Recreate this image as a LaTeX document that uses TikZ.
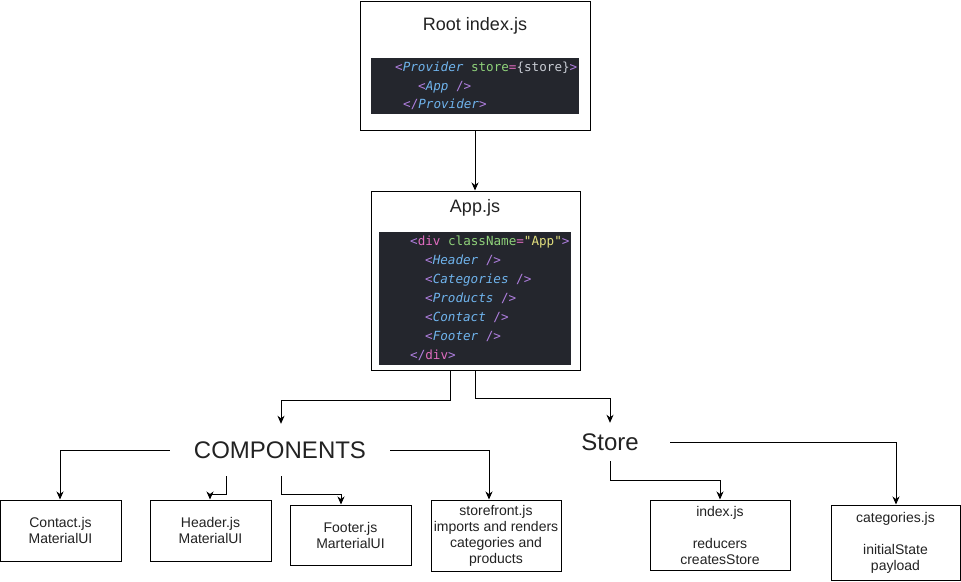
\documentclass[tikz,border=0pt]{standalone}
\usepackage{fontspec}
\setmainfont{Liberation Sans}
\newfontfamily\codefont{DejaVu Sans Mono}
\usetikzlibrary{arrows.meta,calc}
\definecolor{codebg}{HTML}{24262D}
\definecolor{tagp}{HTML}{B07FE0}
\definecolor{tagk}{HTML}{E06CC0}
\definecolor{attrg}{HTML}{8FD17A}
\definecolor{strq}{HTML}{E3E07E}
\definecolor{compb}{HTML}{6FB3EC}
\definecolor{plain}{HTML}{C8CCD4}
\definecolor{txt}{HTML}{222222}
\newcommand{\tp}[1]{\textcolor{tagp}{#1}}
\newcommand{\tk}[1]{\textcolor{tagk}{#1}}
\newcommand{\cb}[1]{\textcolor{compb}{\itshape #1}}
\begin{document}
\begin{tikzpicture}[x=1pt,y=-1pt,
  box/.style={draw=black,line width=1pt,fill=white,inner sep=0pt,align=center,text=txt,
    font=\fontsize{14}{16}\selectfont},
  title/.style={text=txt,font=\fontsize{18}{21}\selectfont,inner sep=0pt},
  big/.style={text=txt,font=\fontsize{24}{28}\selectfont,inner sep=0pt},
  codebox/.style={fill=codebg,draw=none,inner sep=0pt},
  code/.style={anchor=base west,inner sep=0pt,font=\codefont\fontsize{12.6}{15}\selectfont},
  conn/.style={draw=black,line width=1pt},
  arr/.style={conn,-{Stealth[length=8pt,width=7pt,inset=2.5pt]}}]
\useasboundingbox (0,0) rectangle (961,581);
% Root index.js
\node[box,minimum width=230pt,minimum height=129pt] (root) at (475,65.5) {};
\node[title] (roott) at (475,26) {Root index.js};
\node[codebox,minimum width=208pt,minimum height=56pt] (rootcode) at (475,86) {};
\node[code] (r1) at (395,71.5) {\tp{<}\cb{Provider} \textcolor{attrg}{store}\tk{=}\textcolor{plain}{\{store\}}\tp{>}};
\node[code] (r2) at (418,90.5) {\tp{<}\cb{App} \tp{/>}};
\node[code] (r3) at (403,108.5) {\tp{</}\cb{Provider}\tp{>}};
% App.js
\node[box,minimum width=209pt,minimum height=179pt] (app) at (475.5,280.5) {};
\node[title] (appt) at (475,208) {App.js};
\node[codebox,minimum width=192pt,minimum height=133pt] (appcode) at (475,298.5) {};
\node[code] (a1) at (410,245.7) {\tp{<}\tk{div} \textcolor{attrg}{className}\tk{=}\textcolor{strq}{"App"}\tp{>}};
\node[code] (a2) at (425,264.7) {\tp{<}\cb{Header} \tp{/>}};
\node[code] (a3) at (425,283.7) {\tp{<}\cb{Categories} \tp{/>}};
\node[code] (a4) at (425,302.7) {\tp{<}\cb{Products} \tp{/>}};
\node[code] (a5) at (425,321.7) {\tp{<}\cb{Contact} \tp{/>}};
\node[code] (a6) at (425,340.7) {\tp{<}\cb{Footer} \tp{/>}};
\node[code] (a7) at (410,359.1) {\tp{</}\tk{div}\tp{>}};
% section labels
\node[big,minimum width=220pt,minimum height=52pt] (comp) at (280,450) {COMPONENTS};
\node[big,minimum width=120pt,minimum height=38pt] (store) at (610,442) {Store};
% leaf boxes
\node[box,minimum width=121pt,minimum height=61pt] (contact) at (60.5,530.5) {Contact.js\\MaterialUI};
\node[box,minimum width=121pt,minimum height=61pt] (header) at (210.5,530.5) {Header.js\\MaterialUI};
\node[box,minimum width=121pt,minimum height=60pt] (footer) at (350.5,535) {Footer.js\\MarterialUI};
\node[box,minimum width=130pt,minimum height=71pt] (storefront) at (496,535.5) {storefront.js\\imports and renders\\categories and\\products};
\node[box,minimum width=140pt,minimum height=70pt] (index) at (720,535) {index.js\\\mbox{}\\reducers\\createsStore};
\node[box,minimum width=129pt,minimum height=75pt] (cats) at (895.5,542.5) {categories.js\\\mbox{}\\initialState\\payload};
% connectors
\draw[arr] (root.south) -- (app.north -| root.south);
\draw[arr] (app.south -| 450,0) -- (450,400) -| (comp.north -| 281,0);
\draw[arr] (app.south -| 475,0) -- (475,398) -| (store.north);
\draw[arr] (comp.west) -| (contact.north -| 60,0);
\draw[arr] (comp.east) -| (storefront.north -| 489,0);
\draw[arr] (comp.south -| 226,0) -- (226,494) -| (header.north -| 210,0);
\draw[arr] (comp.south -| 281,0) -- (281,494) -| (footer.north -| 341,0);
\draw[arr] (store.south) -- (610,480) -| (index.north);
\draw[arr] (store.east) -| (cats.north -| 896,0);
\end{tikzpicture}
\end{document}
